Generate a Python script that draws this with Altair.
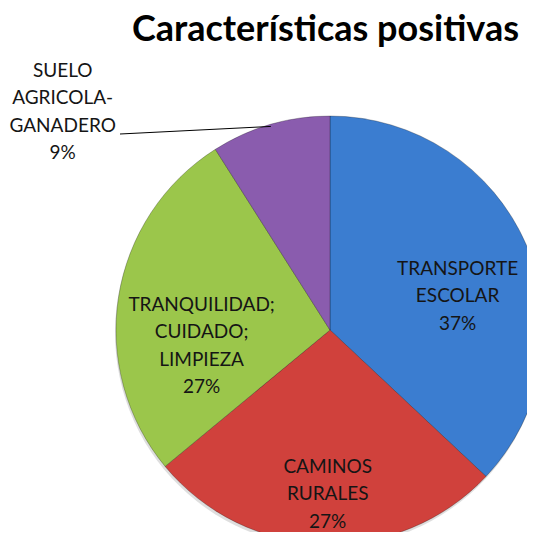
import altair as alt
import pandas as pd

categories = ["TRANSPORTE ESCOLAR", "CAMINOS RURALES",
              "TRANQUILIDAD; CUIDADO; LIMPIEZA", "SUELO AGRICOLA-GANADERO"]
label_lines = ["TRANSPORTE\nESCOLAR", "CAMINOS\nRURALES",
               "TRANQUILIDAD;\nCUIDADO;\nLIMPIEZA", "SUELO\nAGRICOLA-\nGANADERO"]
percents = [37, 27, 27, 9]
slice_order = [0, 1, 2, 3]
colors = ["#3b7dd0", "#d0413c", "#9bc64b", "#8a5cae"]

df = pd.DataFrame({"cat": categories, "lines": label_lines,
                   "pct": percents, "ord": slice_order})

W, H, TOP = 519, 474, 50
CX, CY, R = 322, 272, 214
FONT = "Lato"

base = alt.Chart(df).transform_calculate(
    label="datum.lines + '\\n' + datum.pct + '%'"
)

theta = alt.Theta("pct:Q", stack=True)
order = alt.Order("ord:Q")
color = alt.Color("cat:N", scale=alt.Scale(domain=categories, range=colors), legend=None)

shadow = base.mark_arc(radius=R, color="#c8c8c8", opacity=0.6).encode(
    theta=theta, order=order,
    x=alt.value(CX - 1), y=alt.value(CY + 3),
)

arcs = base.mark_arc(radius=R, stroke="#000000", strokeOpacity=0.25, strokeWidth=1).encode(
    theta=theta, order=order, color=color,
    x=alt.value(CX), y=alt.value(CY),
)


def label_layer(i, radius, dx, dy):
    return base.mark_text(
        radius=radius, dx=dx, dy=dy, font=FONT, fontSize=19, lineBreak="\n",
        lineHeight=27.5, align="center", baseline="middle", color="#151515",
    ).encode(
        theta=theta, order=order,
        x=alt.value(CX), y=alt.value(CY),
        text=alt.condition(alt.datum.cat == categories[i], "label:N", alt.value("")),
    )


labels = [
    label_layer(0, 139, 0, -6),
    label_layer(1, 137, 2, 0),
    label_layer(2, 130, 0, -5),
    label_layer(3, 270, -192, 0),
]

leader = base.transform_joinaggregate(total="sum(pct)").transform_window(
    cum="sum(pct)", sort=[alt.SortField("ord")], frame=[None, 0]
).transform_calculate(
    mid="(datum.cum - datum.pct / 2) / datum.total * 2 * PI",
    px=f"{CX} + {R - 2} * sin(datum.mid)",
    py=f"{CY} - {R - 2} * cos(datum.mid)",
).transform_filter(alt.datum.ord == 3).mark_rule(color="#000000", strokeWidth=1).encode(
    x=alt.X("px:Q", scale=None), y=alt.Y("py:Q", scale=None),
    x2=alt.value(112), y2=alt.value(76),
)

chart = alt.layer(shadow, arcs, leader, *labels).properties(
    width=W, height=H,
    autosize=alt.AutoSizeParams(type="none"),
    padding={"left": 0, "top": TOP, "right": 0, "bottom": 0},
    title=alt.TitleParams(
        "Características positivas", font=FONT, fontSize=36, fontWeight="bold",
        color="#000000", anchor="middle", dx=58, dy=35, baseline="alphabetic", offset=16,
    ),
).configure_view(stroke=None)

chart.save("out.html", embed_options={"renderer": "svg", "actions": False})
